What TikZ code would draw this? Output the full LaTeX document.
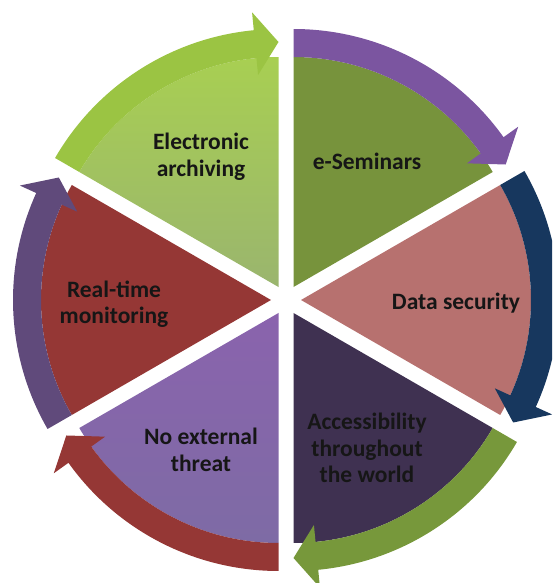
\documentclass[tikz,border=0pt]{standalone}
\usepackage{fontspec}
\setmainfont{Carlito}
\usetikzlibrary{calc}
\definecolor{lgA}{HTML}{A8CF52}
\definecolor{lgB}{HTML}{9AB56E}
\definecolor{lgArrow}{HTML}{9BC443}
\definecolor{olive}{HTML}{77933C}
\definecolor{purArrow}{HTML}{7B55A0}
\definecolor{rose}{HTML}{B7716F}
\definecolor{navy}{HTML}{17375E}
\definecolor{dpur}{HTML}{3F3151}
\definecolor{grArrow}{HTML}{77983B}
\definecolor{purA}{HTML}{8A63AD}
\definecolor{purB}{HTML}{7E6BA5}
\definecolor{redW}{HTML}{953735}
\definecolor{redArrow}{HTML}{953735}
\definecolor{vioArrow}{HTML}{604A7B}
\definecolor{txt}{HTML}{161616}
\newcommand\pieWedge[3]{%
  \begin{scope}[shift={($(C)+(#1:15)$)}]
    \path[#2] (0,0) -- (#1+30:230) arc[start angle=#1+30, end angle=#1-30, radius=230] -- cycle;
    \path[fill=#3] (#1+30:230) arc[start angle=#1+30, end angle=#1-24.5, radius=230]
      -- (#1-24.5:213) -- (#1-30:245) -- (#1-24.5:276) -- (#1-24.5:258)
      arc[start angle=#1-24.5, end angle=#1+30, radius=258] -- cycle;
  \end{scope}}
\tikzset{lbl/.style={text=txt, align=center, font=\bfseries\fontsize{23.5}{26.5}\selectfont}}
\begin{document}
\begin{tikzpicture}[x=1pt,y=1pt]
\useasboundingbox (0,0) rectangle (552,583);
\clip (0,0) rectangle (552,583);
\coordinate (C) at (286,283);
\pieWedge{120}{top color=lgA, bottom color=lgB}{lgArrow}
\pieWedge{60}{fill=olive}{purArrow}
\pieWedge{0}{fill=rose}{navy}
\pieWedge{-60}{fill=dpur}{grArrow}
\pieWedge{-120}{top color=purA, bottom color=purB}{redArrow}
\pieWedge{180}{fill=redW}{vioArrow}
\node[lbl] (ea) at (201,426) {Electronic\\archiving};
\node[lbl] (es) at (367,422) {e-Seminars};
\node[lbl] (ds) at (456,280) {Data security};
\node[lbl] (rt) at (114,279) {Real-time\\monitoring};
\node[lbl] (ne) at (201,133) {No external\\threat};
\node[lbl] (ac) at (367,135) {Accessibility\\throughout\\the world};
\end{tikzpicture}
\end{document}
